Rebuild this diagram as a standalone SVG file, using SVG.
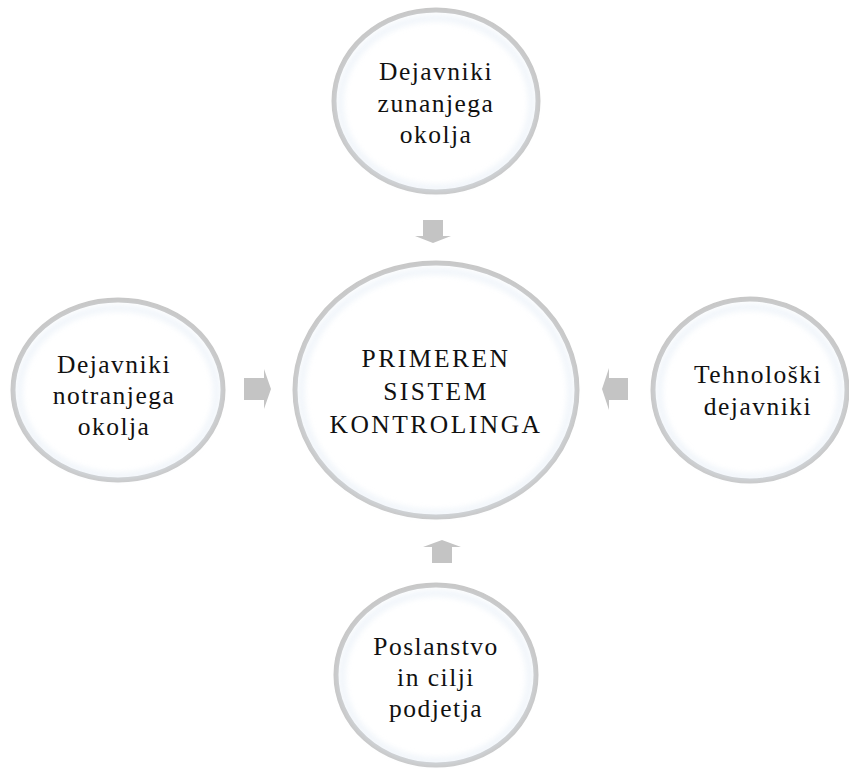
<svg xmlns="http://www.w3.org/2000/svg" width="849" height="769" viewBox="0 0 849 769">
  <defs>
    <filter id="glow" x="-20%" y="-20%" width="140%" height="140%">
      <feGaussianBlur stdDeviation="3"/>
    </filter>
    <style>
      .ring { fill: #ffffff; stroke: #c8c8c8; stroke-width: 5; }
      .halo { fill: none; stroke: #dde8f4; stroke-width: 5; opacity: 0.6; filter: url(#glow); }
      .lbl { font-family: "Liberation Serif", "Times New Roman", serif; font-size: 25.5px; letter-spacing: 1.5px; fill: #111111; text-anchor: middle; }
      .big { letter-spacing: 2.5px; }
      .arrow { fill: #c4c4c4; }
    </style>
  </defs>

  <rect width="849" height="769" fill="#ffffff"/>

  <!-- connectors: block arrows pointing to the centre -->
  <g id="connectors">
    <path class="arrow" d="M423,220 H443 V236 H451 L433,243 L415,236 H423 Z"/>
    <path class="arrow" d="M432,563 V547 H423 L442,540 L461,547 H452 V563 Z"/>
    <path class="arrow" d="M244,378 H264 V369 L271,389 L264,409 V400 H244 Z"/>
    <path class="arrow" d="M628,378 H609 V368 L602,389 L609,410 V400 H628 Z"/>
  </g>

  <!-- centre -->
  <g id="node-center">
    <ellipse class="ring" cx="436" cy="390" rx="141" ry="127"/>
    <ellipse class="halo" cx="436" cy="392" rx="135" ry="121"/>
    <text class="lbl big" x="436" y="367">PRIMEREN</text>
    <text class="lbl big" x="436" y="400">SISTEM</text>
    <text class="lbl big" x="436" y="433">KONTROLINGA</text>
  </g>

  <!-- top -->
  <g id="node-top">
    <ellipse class="ring" cx="436" cy="101" rx="102" ry="91"/>
    <ellipse class="halo" cx="436" cy="103" rx="96" ry="85"/>
    <text class="lbl" x="436" y="80">Dejavniki</text>
    <text class="lbl" x="436" y="112">zunanjega</text>
    <text class="lbl" x="436" y="143">okolja</text>
  </g>

  <!-- left -->
  <g id="node-left">
    <ellipse class="ring" cx="118" cy="390" rx="105" ry="90"/>
    <ellipse class="halo" cx="118" cy="392" rx="99" ry="84"/>
    <text class="lbl" x="114" y="373">Dejavniki</text>
    <text class="lbl" x="114" y="404">notranjega</text>
    <text class="lbl" x="114" y="435">okolja</text>
  </g>

  <!-- right -->
  <g id="node-right">
    <ellipse class="ring" cx="750" cy="390" rx="97" ry="91"/>
    <ellipse class="halo" cx="750" cy="392" rx="91" ry="85"/>
    <text class="lbl" x="758" y="383">Tehnološki</text>
    <text class="lbl" x="758" y="415">dejavniki</text>
  </g>

  <!-- bottom -->
  <g id="node-bottom">
    <ellipse class="ring" cx="436" cy="675" rx="100" ry="90"/>
    <ellipse class="halo" cx="436" cy="677" rx="94" ry="84"/>
    <text class="lbl" x="436" y="655">Poslanstvo</text>
    <text class="lbl" x="436" y="686">in cilji</text>
    <text class="lbl" x="436" y="717">podjetja</text>
  </g>
</svg>
